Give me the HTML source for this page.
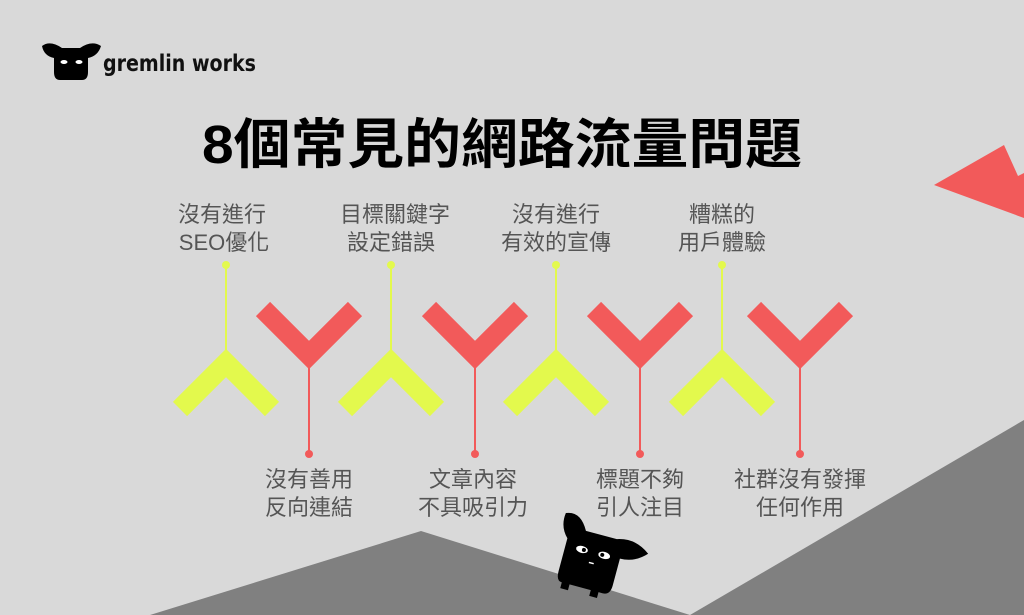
<!DOCTYPE html>
<html><head><meta charset="utf-8"><style>
html,body{margin:0;padding:0;background:#d9d9d9;}
svg{display:block}
</style></head><body>
<svg width="1024" height="615" viewBox="0 0 1024 615" xmlns="http://www.w3.org/2000/svg">
<rect width="1024" height="615" fill="#d9d9d9"/>
<polygon points="150,615 421,531 690,615" fill="#808080"/>
<polygon points="690,615 1024,420 1024,615" fill="#808080"/>
<polygon points="934,185 1004,145 1018,176 1024,173 1024,218" fill="#f25a5a"/>

<!-- logo -->
<g fill="#000">
<path d="M42,46 Q50,40 62,48 L80,48 Q92,40 101,46 Q98,56 88,58 L88,72 Q88,80 82,80 L60,80 Q54,80 54,72 L54,58 Q44,56 42,46 Z"/>
</g>
<ellipse cx="64" cy="62" rx="3.5" ry="2" fill="#fff"/>
<ellipse cx="79" cy="62" rx="3.5" ry="2" fill="#fff"/>
<text x="103" y="71" font-family="DejaVu Sans, sans-serif" font-size="23" font-weight="bold" fill="#111" textLength="153" lengthAdjust="spacingAndGlyphs">gremlin works</text>

<text x="502" y="163" text-anchor="middle" font-family="Liberation Sans, Noto Sans CJK TC, sans-serif" font-weight="bold" font-size="54" fill="#000" textLength="600" lengthAdjust="spacingAndGlyphs">8個常見的網路流量問題</text>

<g font-family="Liberation Sans, Noto Sans CJK TC, sans-serif" font-size="22" fill="#555" text-anchor="middle">
<text x="222" y="222">沒有進行</text><text x="224" y="250">SEO優化</text>
<text x="395" y="222">目標關鍵字</text><text x="391" y="250">設定錯誤</text>
<text x="556" y="222">沒有進行</text><text x="556" y="250">有效的宣傳</text>
<text x="722" y="222">糟糕的</text><text x="722" y="250">用戶體驗</text>
<text x="309" y="487">沒有善用</text><text x="309" y="515">反向連結</text>
<text x="473" y="487">文章內容</text><text x="473" y="515">不具吸引力</text>
<text x="640" y="487">標題不夠</text><text x="640" y="515">引人注目</text>
<text x="800" y="487">社群沒有發揮</text><text x="800" y="515">任何作用</text>
</g>

<g id="ys">
<line x1="226" y1="265" x2="226" y2="355" stroke="#e3f94d" stroke-width="2"/>
<circle cx="226" cy="265" r="4" fill="#e3f94d"/>
<polyline points="180,409 226,363 272,409" fill="none" stroke="#e3f94d" stroke-width="20" stroke-linejoin="miter"/>
</g>
<use href="#ys" x="165"/><use href="#ys" x="330"/><use href="#ys" x="496"/>

<g id="rs">
<line x1="309" y1="360" x2="309" y2="454" stroke="#f25a5a" stroke-width="2"/>
<circle cx="309" cy="454" r="4" fill="#f25a5a"/>
<polyline points="263,309 309,355 355,309" fill="none" stroke="#f25a5a" stroke-width="20" stroke-linejoin="miter"/>
</g>
<use href="#rs" x="166"/><use href="#rs" x="331"/><use href="#rs" x="491"/>

<!-- gremlin bottom -->
<g transform="rotate(15 595 555)">
<path d="M556,522 Q570,516 580,534 L612,534 Q630,528 646,540 Q635,552 620,552 L620,580 Q620,590 612,590 L608,590 L608,596 L600,596 L600,590 L578,590 L578,596 L570,596 L570,590 Q564,590 564,580 L564,546 Q554,536 556,522 Z" fill="#000"/>
<ellipse cx="581" cy="553" rx="6" ry="3.5" fill="#fff"/>
<ellipse cx="604" cy="553" rx="6" ry="3.5" fill="#fff"/>
<circle cx="583" cy="553" r="2" fill="#000"/><circle cx="602" cy="553" r="2" fill="#000"/>
<rect x="591" y="563" width="5" height="1.5" fill="#fff"/>
</g>
</svg>
</body></html>
